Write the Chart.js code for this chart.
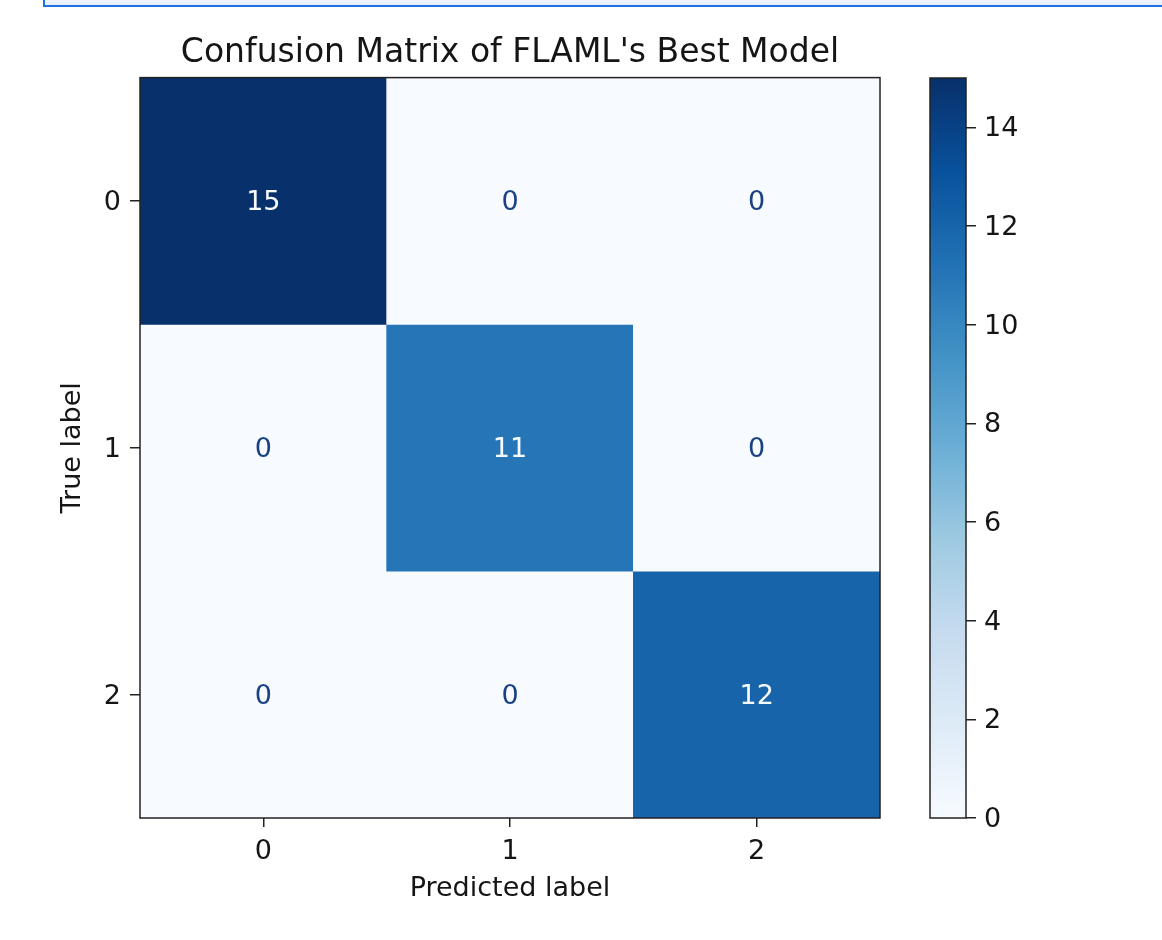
<!DOCTYPE html>
<html><head><meta charset="utf-8">
<script src="https://cdn.jsdelivr.net/npm/chart.js@4.4.1/dist/chart.umd.min.js"></script>
<style>
html,body{margin:0;padding:0;background:#fff;width:1162px;height:940px;overflow:hidden;position:relative;}
#topbox{position:absolute;left:43px;top:-2px;width:1130px;height:7px;border-left:2px solid #1e73e0;border-bottom:2px solid #1e73e0;background:linear-gradient(#f6f9fe,#e4eefb);}
#main{position:absolute;left:0;top:0;}
#cbar{position:absolute;left:900px;top:0;}
</style></head><body>
<div id="topbox"></div>
<canvas id="main" width="900" height="940"></canvas>
<canvas id="cbar" width="262" height="940"></canvas>
<script>
// ---- data ----
const trueLabels = ['0', '1', '2'];
const predLabels = ['0', '1', '2'];
const row0 = [15, 0, 0];
const row1 = [0, 11, 0];
const row2 = [0, 0, 12];
const matrix = [row0, row1, row2];
const colorbarTicks = [0, 2, 4, 6, 8, 10, 12, 14];
const vmin = 0, vmax = 15;
const titleText = "Confusion Matrix of FLAML's Best Model";
const xTitle = 'Predicted label';
const yTitle = 'True label';

// ---- style ----
const FONT = "'DejaVu Sans', sans-serif";
const TXT = '#151515';
const AX = '#222';
const BLUES = [[247,251,255],[222,235,247],[198,219,239],[158,202,225],[107,174,214],[66,146,198],[33,113,181],[8,81,156],[8,48,107]];
function rgb(c){ return 'rgb(' + c.map(Math.round).join(',') + ')'; }
function blues(t){
  t = Math.max(0, Math.min(1, t));
  const p = t * 8, i = Math.min(7, Math.floor(p)), f = p - i;
  const a = BLUES[i], b = BLUES[i + 1];
  return rgb([0,1,2].map(k => a[k] + (b[k] - a[k]) * f));
}
const flat = matrix.flat();
const thresh = (Math.max(...flat) + Math.min(...flat)) / 2;

const datasets = matrix.map((row, i) => ({
  label: 'True ' + trueLabels[i],
  data: row.map(() => [i - 0.5, i + 0.5]),
  backgroundColor: row.map(v => blues((v - vmin) / (vmax - vmin))),
  borderWidth: 0,
  barPercentage: 1,
  categoryPercentage: 1,
  grouped: false
}));

const frameAndText = {
  id: 'frameAndText',
  afterDatasetsDraw(chart) {
    const {ctx, scales} = chart;
    ctx.save();
    ctx.font = '27px ' + FONT;
    ctx.textAlign = 'center';
    ctx.textBaseline = 'middle';
    matrix.forEach((row, i) => row.forEach((v, j) => {
      const x = scales.x.getPixelForValue(j);
      const y = scales.y.getPixelForValue(i) + 2;
      ctx.fillStyle = v < thresh ? '#1a4283' : '#f7fbff';
      ctx.fillText(String(v), x, y);
    }));
    ctx.restore();
  },
  afterDraw(chart) {
    const {ctx, chartArea: a} = chart;
    ctx.save();
    ctx.strokeStyle = AX;
    ctx.lineWidth = 1.5;
    ctx.strokeRect(a.left, a.top, a.right - a.left, a.bottom - a.top);
    ctx.restore();
  }
};

new Chart(document.getElementById('main'), {
  type: 'bar',
  data: { labels: predLabels, datasets },
  options: {
    responsive: false, animation: false, events: [],
    layout: { padding: { left: 0, right: 20, top: 0, bottom: 0 } },
    plugins: {
      legend: { display: false },
      tooltip: { enabled: false },
      title: {
        display: true, text: titleText, fullSize: false, color: TXT,
        font: { family: FONT, size: 33, weight: 'normal', lineHeight: 1.2 },
        padding: { top: 34, bottom: 4 }
      }
    },
    scales: {
      x: {
        type: 'category', offset: true,
        grid: { display: true, offset: false, drawOnChartArea: false, drawTicks: true, tickLength: 9, color: AX, lineWidth: 1.5 },
        border: { display: false },
        ticks: { color: TXT, font: { family: FONT, size: 27 }, padding: 9, maxRotation: 0 },
        title: { display: true, text: xTitle, color: TXT, font: { family: FONT, size: 27, lineHeight: 1.2 }, padding: { top: 0, bottom: 35 } },
        afterFit(s) { s.height = 122; }
      },
      y: {
        type: 'linear', reverse: true, min: -0.5, max: 2.5,
        afterBuildTicks(s) { s.ticks = trueLabels.map((_, i) => ({ value: i })); },
        grid: { display: true, drawOnChartArea: false, drawTicks: true, tickLength: 10, color: AX, lineWidth: 1.5 },
        border: { display: false },
        ticks: { color: TXT, font: { family: FONT, size: 27 }, padding: 9, labelOffset: 2, callback: v => trueLabels[v] },
        title: { display: true, text: yTitle, color: TXT, font: { family: FONT, size: 27, lineHeight: 1.2 }, padding: { top: 57, bottom: 0 } },
        afterFit(s) { s.width = 140; }
      }
    }
  },
  plugins: [frameAndText]
});

const cbarFrame = {
  id: 'cbarFrame',
  afterDraw(chart) {
    const {ctx, chartArea: a} = chart;
    ctx.save();
    ctx.strokeStyle = AX;
    ctx.lineWidth = 1.5;
    ctx.strokeRect(a.left, a.top, a.right - a.left, a.bottom - a.top);
    ctx.restore();
  }
};

new Chart(document.getElementById('cbar'), {
  type: 'bar',
  data: {
    labels: ['scale'],
    datasets: [{
      data: [[vmin, vmax]],
      backgroundColor(ctx) {
        const ca = ctx.chart.chartArea;
        if (!ca) return blues(0.5);
        const g = ctx.chart.ctx.createLinearGradient(0, ca.bottom, 0, ca.top);
        BLUES.forEach((c, k) => g.addColorStop(k / 8, rgb(c)));
        return g;
      },
      borderWidth: 0, barPercentage: 1, categoryPercentage: 1
    }]
  },
  options: {
    responsive: false, animation: false, events: [],
    layout: { padding: { left: 30, right: 0, top: 78, bottom: 122 } },
    plugins: { legend: { display: false }, tooltip: { enabled: false } },
    scales: {
      x: { display: false },
      y: {
        position: 'right', min: vmin, max: vmax,
        afterBuildTicks(s) { s.ticks = colorbarTicks.map(v => ({ value: v })); },
        grid: { display: true, drawOnChartArea: false, drawTicks: true, tickLength: 10, color: AX, lineWidth: 1.5 },
        border: { display: false },
        ticks: { color: TXT, font: { family: FONT, size: 27 }, padding: 8, labelOffset: 2 },
        afterFit(s) { s.width = 196; }
      }
    }
  },
  plugins: [cbarFrame]
});
</script>
</body></html>
